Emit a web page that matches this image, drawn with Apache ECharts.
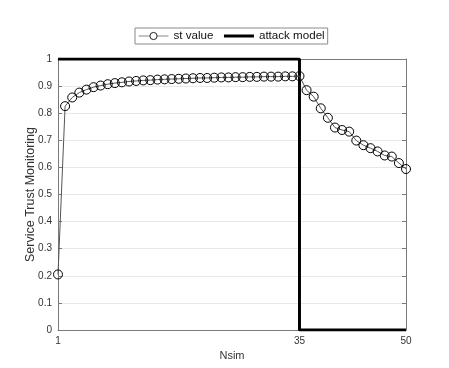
<!DOCTYPE html>
<html>
<head>
<meta charset="utf-8">
<script src="https://cdn.jsdelivr.net/npm/echarts@6/dist/echarts.min.js"></script>
<style>
html,body{margin:0;padding:0;background:#fff;}
#c{width:449px;height:368px;}
</style>
</head>
<body>
<div id="c"></div>
<script>
// Simulation steps (Nsim)
var nsim = [];
for (var i = 1; i <= 50; i++) nsim.push(i);
// Service trust monitoring values
var stValue = [0.205, 0.826, 0.858, 0.876, 0.887, 0.896, 0.902, 0.907, 0.911, 0.914,
  0.917, 0.919, 0.921, 0.922, 0.924, 0.925, 0.926, 0.927, 0.928, 0.929,
  0.930, 0.930, 0.931, 0.932, 0.932, 0.933, 0.933, 0.934, 0.934, 0.935,
  0.935, 0.935, 0.936, 0.936, 0.937,
  0.885, 0.861, 0.818, 0.783, 0.747, 0.738, 0.732, 0.699, 0.682, 0.671,
  0.659, 0.644, 0.640, 0.616, 0.594];
// Attack model step: on until 35, then off
var attackX = [1, 35, 35, 50];
var attackY = [1, 1, 0, 0];
var xTicks = [1, 35, 50];
var seriesNames = ['st value', 'attack model'];

var stData = nsim.map(function (x, k) { return [x, stValue[k]]; });
var attackData = attackX.map(function (x, k) { return [x, attackY[k]]; });

var font = 'Liberation Sans, Arial, Helvetica, sans-serif';
var chart = echarts.init(document.getElementById('c'));
chart.setOption({
  animation: false,
  backgroundColor: '#fff',
  textStyle: { fontFamily: font },
  legend: {
    left: 135, top: 28,
    padding: [2, 3, 2, 3],
    borderColor: '#8a8a8a', borderWidth: 1,
    itemWidth: 30, itemHeight: 9, itemGap: 9,
    textStyle: { fontSize: 11.6, color: '#111', fontFamily: font },
    data: [
      { name: seriesNames[0], lineStyle: { color: '#888', width: 1 },
        itemStyle: { color: '#fff', borderColor: '#222', borderWidth: 1 } },
      { name: seriesNames[1], lineStyle: { color: '#000', width: 3 } }
    ]
  },
  grid: { left: 58, right: 43, top: 59, bottom: 38 },
  xAxis: [{
    type: 'value', min: 1, max: 50, interval: 1,
    name: 'Nsim', nameLocation: 'middle', nameGap: 20, nameMoveOverlap: false,
    nameTextStyle: { fontSize: 11, color: '#333', fontFamily: font },
    axisLine: { show: true, onZero: false, lineStyle: { color: '#7a7a7a', width: 1 } },
    axisTick: { show: true, inside: true, length: 4, customValues: xTicks, lineStyle: { color: '#7a7a7a' } },
    axisLabel: { customValues: xTicks, fontSize: 10, color: '#333', margin: 6 },
    splitLine: { show: false }
  }, {
    type: 'value', min: 1, max: 50, position: 'top',
    axisLine: { show: true, onZero: false, lineStyle: { color: '#7a7a7a', width: 1 } },
    axisTick: { show: false }, axisLabel: { show: false }, splitLine: { show: false }
  }],
  yAxis: [{
    type: 'value', min: 0, max: 1, interval: 0.1,
    name: 'Service Trust Monitoring', nameLocation: 'middle', nameGap: 21, nameMoveOverlap: false,
    nameTextStyle: { fontSize: 12.5, color: '#333', fontFamily: font },
    axisLine: { show: true, onZero: false, lineStyle: { color: '#7a7a7a', width: 1 } },
    axisTick: { show: true, inside: true, length: 4, lineStyle: { color: '#7a7a7a' } },
    axisLabel: { fontSize: 10, color: '#333', margin: 6,
      formatter: function (v) { return String(Math.round(v * 10) / 10); } },
    splitLine: { show: true, lineStyle: { color: '#e8e8e8', width: 1 } }
  }, {
    type: 'value', min: 0, max: 1, interval: 0.1, position: 'right',
    axisLine: { show: true, onZero: false, lineStyle: { color: '#7a7a7a', width: 1 } },
    axisTick: { show: true, inside: true, length: 4, lineStyle: { color: '#7a7a7a' } },
    axisLabel: { show: false }, splitLine: { show: false }
  }],
  series: [{
    name: seriesNames[1], type: 'line', data: attackData,
    showSymbol: false, symbol: 'none', z: 2,
    lineStyle: { color: '#000', width: 3 },
    itemStyle: { color: '#000', opacity: 0 }
  }, {
    name: seriesNames[0], type: 'line', data: stData,
    symbol: 'circle', symbolSize: 9, showAllSymbol: true, z: 3,
    lineStyle: { color: '#555', width: 1 },
    itemStyle: { color: 'rgba(255,255,255,0)', borderColor: '#000', borderWidth: 1 }
  }]
});
</script>
</body>
</html>
